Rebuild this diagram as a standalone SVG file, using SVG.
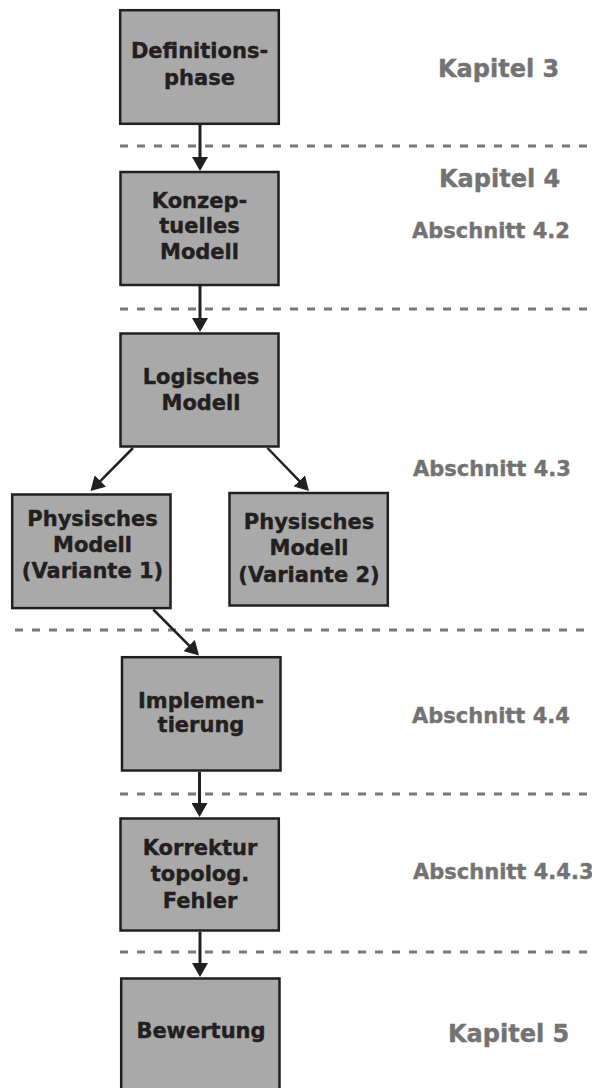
<svg xmlns="http://www.w3.org/2000/svg" width="592" height="1088" viewBox="0 0 592 1088">
<style>
.box{fill:#a9a9a9;stroke:#231f20;stroke-width:2.5}
.bt{font-family:"DejaVu Sans",Verdana,sans-serif;font-weight:bold;font-size:21px;fill:#231f20;stroke:#231f20;stroke-width:0.4;text-anchor:middle}
.kap{font-family:"DejaVu Sans",Verdana,sans-serif;font-weight:bold;font-size:24px;fill:#737373;stroke:#737373;stroke-width:0.4}
.abs{font-family:"DejaVu Sans",Verdana,sans-serif;font-weight:bold;font-size:21px;fill:#737373;stroke:#737373;stroke-width:0.4}
.sep{stroke:#777;stroke-width:3;stroke-dasharray:8 9;fill:none}
.con{stroke:#231f20;stroke-width:3;fill:none;marker-end:url(#ah)}
.cond{stroke:#231f20;stroke-width:2.5;fill:none;marker-end:url(#ah)}
</style>
<defs>
<marker id="ah" viewBox="0 0 14 16" refX="6" refY="8" markerWidth="14" markerHeight="16" markerUnits="userSpaceOnUse" orient="auto">
<path d="M0,0 L14,8 L0,16 z" fill="#231f20"/>
</marker>
</defs>
<g id="separators">
<line class="sep" x1="120" y1="146" x2="592" y2="146"/>
<line class="sep" x1="120" y1="309" x2="592" y2="309"/>
<line class="sep" x1="15" y1="630" x2="592" y2="630"/>
<line class="sep" x1="120" y1="794" x2="592" y2="794"/>
<line class="sep" x1="120" y1="952" x2="592" y2="952"/>
</g>
<g id="labels">
<text class="kap" x="438" y="77">Kapitel 3</text>
<text class="kap" x="439" y="187">Kapitel 4</text>
<text class="abs" x="412" y="238">Abschnitt 4.2</text>
<text class="abs" x="413" y="476">Abschnitt 4.3</text>
<text class="abs" x="412" y="723">Abschnitt 4.4</text>
<text class="abs" x="413" y="879">Abschnitt 4.4.3</text>
<text class="kap" x="448" y="1042">Kapitel 5</text>
</g>
<g id="connectors">
<line class="con" x1="200" y1="124" x2="200" y2="163"/>
<line class="con" x1="200" y1="286" x2="200" y2="324"/>
<line class="cond" x1="133" y1="448" x2="96.1" y2="485.3"/>
<line class="cond" x1="267.5" y1="448" x2="303.4" y2="485.2"/>
<line class="cond" x1="153.3" y1="609.5" x2="193.4" y2="649.8"/>
<line class="con" x1="199.5" y1="772" x2="199.5" y2="809"/>
<line class="con" x1="200" y1="932" x2="200" y2="969"/>
</g>
<g id="n-definitionsphase">
<rect class="box" x="120.2" y="10.2" width="158.6" height="113.6"/>
<text class="bt" x="199.5" y="58">Definitions-</text>
<text class="bt" x="199.5" y="85">phase</text>
</g>
<g id="n-konzeptuell">
<rect class="box" x="120.5" y="172" width="158" height="113"/>
<text class="bt" x="199.5" y="207.5">Konzep-</text>
<text class="bt" x="199.5" y="233">tuelles</text>
<text class="bt" x="199.5" y="259">Modell</text>
</g>
<g id="n-logisch">
<rect class="box" x="120.5" y="333.5" width="158" height="113"/>
<text class="bt" x="201" y="384">Logisches</text>
<text class="bt" x="201" y="410">Modell</text>
</g>
<g id="n-physisch1">
<rect class="box" x="12.2" y="494.5" width="158.3" height="113.6"/>
<text class="bt" x="92.5" y="526">Physisches</text>
<text class="bt" x="92.5" y="552">Modell</text>
<text class="bt" x="92.5" y="578">(Variante 1)</text>
</g>
<g id="n-physisch2">
<rect class="box" x="229.5" y="493" width="158.3" height="112.5"/>
<text class="bt" x="309" y="528.5">Physisches</text>
<text class="bt" x="309" y="555">Modell</text>
<text class="bt" x="309" y="581.5">(Variante 2)</text>
</g>
<g id="n-implementierung">
<rect class="box" x="122" y="657.2" width="158.5" height="113.3"/>
<text class="bt" x="201" y="707.5">Implemen-</text>
<text class="bt" x="201" y="732">tierung</text>
</g>
<g id="n-korrektur">
<rect class="box" x="120.5" y="818.5" width="158.3" height="112"/>
<text class="bt" x="200" y="855">Korrektur</text>
<text class="bt" x="200" y="881">topolog.</text>
<text class="bt" x="200" y="908">Fehler</text>
</g>
<g id="n-bewertung">
<rect class="box" x="121.2" y="978.5" width="158.3" height="150"/>
<text class="bt" x="201" y="1038">Bewertung</text>
</g>
</svg>
